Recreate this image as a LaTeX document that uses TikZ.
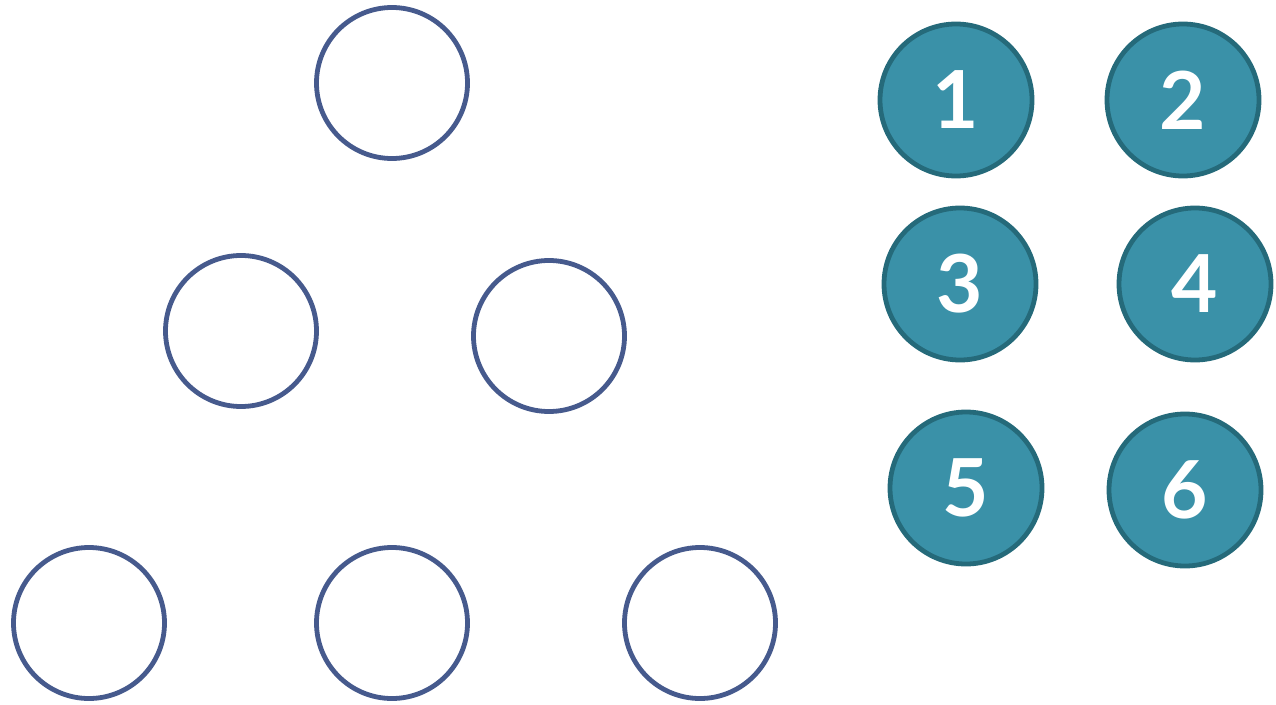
\documentclass[tikz,border=0pt]{standalone}
\usepackage{fontspec}
\setmainfont{Lato}
\definecolor{ringblue}{HTML}{465A8D}
\definecolor{tealfill}{HTML}{3A91A8}
\definecolor{tealedge}{HTML}{256A7A}
\tikzset{
  ring/.style={circle, draw=ringblue, line width=4.8pt, minimum size=151pt, inner sep=0pt},
  numball/.style={circle, draw=tealedge, fill=tealfill, line width=4.8pt, minimum size=152pt, inner sep=0pt, text=white, font=\fontsize{80}{80}\selectfont\bfseries}
}
\begin{document}
\begin{tikzpicture}[x=1pt,y=-1pt]
\useasboundingbox (0,0) rectangle (1276,704);
\node[ring] (r1) at (392,83) {};
\node[ring] (r2) at (241,331) {};
\node[ring] (r3) at (549,336) {};
\node[ring] (r4) at (89,623) {};
\node[ring] (r5) at (392,623) {};
\node[ring] (r6) at (700,623) {};
\node[numball] (n1) at (956,100) {1};
\node[numball] (n2) at (1183,100) {2};
\node[numball] (n3) at (960,284) {3};
\node[numball] (n4) at (1195,284) {4};
\node[numball] (n5) at (966,488) {5};
\node[numball] (n6) at (1185,490) {6};
\end{tikzpicture}
\end{document}
